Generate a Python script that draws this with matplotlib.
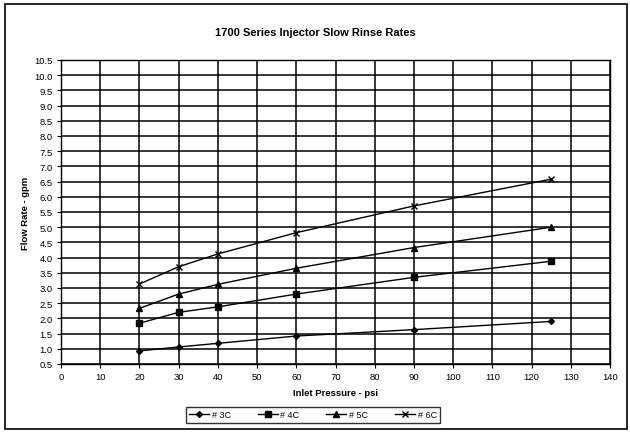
import matplotlib
matplotlib.use("Agg")
import matplotlib.pyplot as plt
from matplotlib.patches import Rectangle
import numpy as np

plt.rcParams['font.family'] = ['Liberation Sans', 'DejaVu Sans']

pressure = [20, 30, 40, 60, 90, 125]
s3c = [0.93, 1.06, 1.18, 1.42, 1.63, 1.90]
s4c = [1.84, 2.20, 2.38, 2.80, 3.35, 3.88]
s5c = [2.33, 2.80, 3.12, 3.65, 4.33, 5.00]
s6c = [3.13, 3.70, 4.12, 4.82, 5.70, 6.58]
labels = ['# 3C', '# 4C', '# 5C', '# 6C']

fig = plt.figure(figsize=(6.3, 4.35), dpi=100)
ax = fig.add_axes([61/630, 1-365/435, 549/630, 304/435])

markers = [('D', 3), ('s', 4.5), ('^', 4.5), ('x', 5)]
for ys, lab, (m, ms) in zip([s3c, s4c, s5c, s6c], labels, markers):
    ax.plot(pressure, ys, color='black', lw=1.0, marker=m, ms=ms,
            mew=1.0, label=lab)

ax.set_xlim(0, 140)
ax.set_ylim(0.5, 10.5)
ax.set_xticks(np.arange(0, 141, 10))
ax.set_yticks(np.arange(0.5, 10.51, 0.5))
ax.set_yticklabels([f"{v:.1f}" for v in np.arange(0.5, 10.51, 0.5)])
ax.grid(True, color='black', lw=1.1)
ax.set_axisbelow(True)
ax.tick_params(labelsize=6.8, length=3, width=0.8, color='black', pad=3)
for sp in ax.spines.values():
    sp.set_linewidth(1.0)
    sp.set_color('black')

ax.set_xlabel('Inlet Pressure - psi', fontsize=6.8, fontweight='bold', labelpad=5)
ax.set_ylabel('Flow Rate - gpm', fontsize=6.8, fontweight='bold', labelpad=3)
fig.text(0.5, 1-33/435, '1700 Series Injector Slow Rinse Rates',
         ha='center', va='center', fontsize=8, fontweight='bold')

leg = fig.legend(loc='center', bbox_to_anchor=(313/630, 1-416/435), ncol=4,
                 fontsize=6.5, frameon=True, fancybox=False, edgecolor='black',
                 handlelength=2.2, columnspacing=3.0, handletextpad=0.3,
                 borderpad=0.4)
leg.get_frame().set_linewidth(1.0)

fig.patches.append(Rectangle((5/630, 5/435), 622/630, 425/435,
                             transform=fig.transFigure, fill=False,
                             edgecolor='black', lw=1.2))

fig.savefig('out.png', dpi=100)
